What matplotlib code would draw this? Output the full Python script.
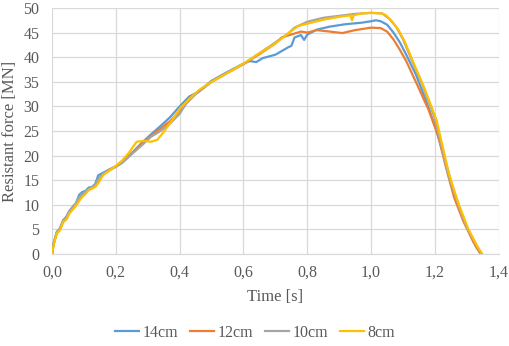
import matplotlib.pyplot as plt
from matplotlib.ticker import FuncFormatter

plt.rcParams['font.family'] = ['Liberation Serif', 'DejaVu Serif']

# values
t14 = [0, 0.005, 0.015, 0.025, 0.035, 0.045, 0.055, 0.065, 0.075, 0.085, 0.095, 0.105,
       0.115, 0.125, 0.135, 0.145, 0.16, 0.18, 0.2, 0.22, 0.25, 0.28, 0.31, 0.34, 0.37,
       0.40, 0.43, 0.46, 0.50, 0.55, 0.60, 0.62, 0.64, 0.66, 0.70, 0.74, 0.75, 0.76, 0.78,
       0.79, 0.80, 0.83, 0.87, 0.92, 0.97, 1.0, 1.015, 1.03, 1.05, 1.07, 1.09, 1.11, 1.14,
       1.17, 1.2, 1.23, 1.26, 1.29, 1.31, 1.33, 1.345]
f14 = [0, 2.2, 4.5, 5.2, 6.8, 7.6, 8.8, 9.6, 10.3, 12.0, 12.6, 12.8, 13.5, 13.6, 14.2,
       16.0, 16.5, 17.2, 17.8, 18.6, 20.5, 22.5, 24.3, 26.0, 27.8, 30.0, 32.0, 33.0, 35.2,
       37.0, 38.7, 39.2, 39.0, 39.8, 40.5, 42.0, 42.3, 44.0, 44.5, 43.5, 44.6, 45.6, 46.2,
       46.7, 47.0, 47.3, 47.5, 47.3, 46.6, 45.0, 43.0, 40.5, 36.5, 31.5, 26.0, 19.5, 12.5,
       7.0, 4.0, 1.3, 0.0]

t12 = [0, 0.005, 0.015, 0.025, 0.035, 0.045, 0.055, 0.065, 0.075, 0.085, 0.095, 0.105,
       0.115, 0.125, 0.135, 0.145, 0.16, 0.18, 0.2, 0.22, 0.25, 0.28, 0.31, 0.34, 0.37,
       0.40, 0.43, 0.46, 0.50, 0.55, 0.60, 0.65, 0.70, 0.72, 0.75, 0.78, 0.80, 0.83, 0.87,
       0.91, 0.95, 1.0, 1.03, 1.05, 1.07, 1.09, 1.11, 1.14, 1.18, 1.21, 1.235, 1.26, 1.29,
       1.32, 1.34]
f12 = [0, 2.0, 4.3, 5.0, 6.6, 7.2, 8.5, 9.3, 10.0, 11.0, 12.0, 12.5, 13.0, 13.4, 13.8,
       15.0, 16.2, 17.0, 17.8, 18.8, 20.5, 22.2, 24.0, 25.5, 27.0, 29.0, 31.5, 33.0, 35.0,
       36.8, 38.6, 40.6, 42.8, 44.0, 44.6, 45.2, 45.0, 45.5, 45.2, 44.9, 45.5, 46.0, 45.9,
       45.2, 43.6, 41.5, 39.2, 35.0, 29.3, 24.0, 17.5, 11.5, 6.5, 2.5, 0.3]

t10 = [0, 0.005, 0.015, 0.025, 0.035, 0.045, 0.055, 0.065, 0.075, 0.085, 0.095, 0.105,
       0.115, 0.125, 0.135, 0.145, 0.16, 0.18, 0.2, 0.22, 0.25, 0.28, 0.31, 0.34, 0.37,
       0.40, 0.42, 0.45, 0.50, 0.55, 0.60, 0.65, 0.70, 0.74, 0.76, 0.80, 0.85, 0.90, 0.95,
       1.0, 1.035, 1.06, 1.08, 1.10, 1.13, 1.16, 1.2, 1.24, 1.27, 1.30, 1.33, 1.345]
f10 = [0, 2.1, 4.4, 5.1, 6.9, 7.4, 8.7, 9.5, 10.2, 11.5, 12.2, 12.6, 13.2, 13.5, 14.0,
       15.2, 16.3, 17.1, 17.7, 18.5, 20.3, 22.0, 23.8, 25.0, 26.5, 28.5, 30.5, 32.5, 35.0,
       36.9, 38.6, 40.8, 43.0, 44.8, 46.0, 47.2, 48.0, 48.4, 48.8, 49.0, 48.9, 47.6, 46.0,
       43.6, 39.0, 34.5, 27.5, 16.5, 10.5, 5.3, 1.8, 0.2]

t8 = [0, 0.005, 0.015, 0.025, 0.035, 0.045, 0.055, 0.065, 0.075, 0.085, 0.095, 0.105,
      0.115, 0.125, 0.135, 0.145, 0.16, 0.18, 0.2, 0.22, 0.24, 0.265, 0.29, 0.31, 0.33,
      0.35, 0.38, 0.40, 0.43, 0.46, 0.50, 0.55, 0.60, 0.65, 0.70, 0.75, 0.77, 0.80, 0.85,
      0.90, 0.935, 0.94, 0.945, 0.97, 1.0, 1.03, 1.045, 1.065, 1.085, 1.105, 1.135, 1.165,
      1.205, 1.245, 1.275, 1.305, 1.335, 1.348]
f8 = [0, 1.8, 4.2, 4.8, 6.5, 7.0, 8.3, 9.0, 9.8, 10.8, 11.6, 12.2, 13.0, 13.3, 13.6,
      14.4, 16.0, 17.0, 17.9, 19.0, 20.5, 22.8, 23.0, 22.8, 23.2, 24.8, 27.5, 29.5, 31.5,
      33.3, 35.0, 36.8, 38.7, 40.8, 42.8, 45.3, 46.3, 46.8, 47.6, 48.2, 48.5, 47.5, 48.5,
      48.9, 49.0, 48.9, 48.6, 47.3, 45.6, 43.2, 38.5, 34.0, 27.2, 16.0, 10.0, 5.0, 1.3, 0.0]

series = [("14cm", t14, f14, "#5B9BD5"),
          ("12cm", t12, f12, "#ED7D31"),
          ("10cm", t10, f10, "#A5A5A5"),
          ("8cm", t8, f8, "#FFC000")]

fig = plt.figure(figsize=(5.1, 3.46), dpi=100)
ax = fig.add_axes([0.102, 0.266, 0.876, 0.711])

for name, t, f, c in series:
    ax.plot(t, f, color=c, lw=1.6, label=name)

ax.set_xlim(0, 1.4)
ax.set_ylim(0, 50)
ax.set_xticks([0, 0.2, 0.4, 0.6, 0.8, 1.0, 1.2, 1.4])
ax.set_yticks(range(0, 51, 5))
ax.xaxis.set_major_formatter(FuncFormatter(lambda v, p: f"{v:.1f}".replace(".", ",")))
ax.grid(True, color="#D9D9D9", lw=0.9)
ax.set_axisbelow(True)
for s in ["top", "right", "left"]:
    ax.spines[s].set_visible(False)
ax.spines["bottom"].set_color("#D9D9D9")
ax.tick_params(length=0, labelsize=11.5, labelcolor="#595959")
ax.tick_params(axis="x", pad=8)
ax.tick_params(axis="y", pad=9)

ax.set_xlabel("Time [s]", fontsize=12, color="#595959", labelpad=6)
ax.set_ylabel("Resistant force [MN]", fontsize=12, color="#595959", labelpad=4)

handles, labels = ax.get_legend_handles_labels()
leg = fig.legend(handles, labels, loc="center", bbox_to_anchor=(0.5, 0.038), ncol=4,
                 frameon=False, fontsize=11.5, handlelength=1.5, columnspacing=0.75,
                 handletextpad=0.2)
for txt in leg.get_texts():
    txt.set_color("#595959")

fig.savefig("out.png", dpi=100)
